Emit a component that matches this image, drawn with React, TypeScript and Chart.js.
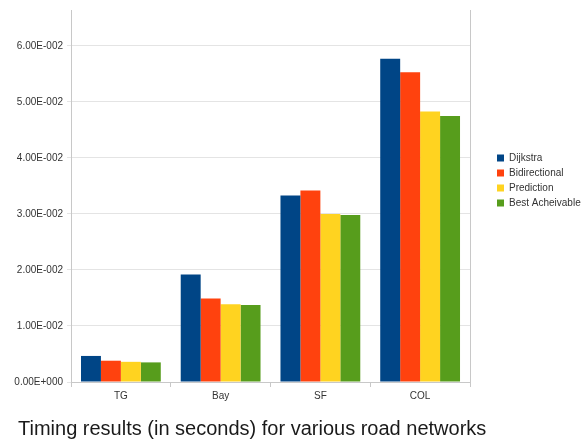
import React, { useEffect, useRef } from 'react';
import { Chart, registerables } from 'chart.js';

Chart.register(...registerables);

const categories = ['TG', 'Bay', 'SF', 'COL'];
const seriesNames = ['Dijkstra', 'Bidirectional', 'Prediction', 'Best Acheivable'];
const dijkstra = [0.00465, 0.0192, 0.0333, 0.0577];
const bidirectional = [0.0038, 0.0149, 0.0342, 0.0553];
const prediction = [0.0036, 0.0139, 0.0300, 0.0483];
const bestAcheivable = [0.0035, 0.01375, 0.0298, 0.0475];
const seriesColors = ['#004586', '#ff420e', '#ffd320', '#579d1c'];
const yTicks = [0, 0.01, 0.02, 0.03, 0.04, 0.05, 0.06];
const chartTitle = 'Timing results (in seconds) for various road networks';

const FONT = "'Liberation Sans', Arial, sans-serif";

function fmtSci(v: number): string {
  if (v === 0) return '0.00E+000';
  const e = Math.floor(Math.log10(Math.abs(v)) + 1e-9);
  const m = v / Math.pow(10, e);
  return m.toFixed(2) + 'E' + (e < 0 ? '-' : '+') + String(Math.abs(e)).padStart(3, '0');
}

const boxPlacement = {
  id: 'boxPlacement',
  afterInit(chart: any) {
    const legend = chart.legend;
    if (!legend) return;
    const orig = legend.fit.bind(legend);
    legend.fit = function () {
      orig();
      this.width = 96;
    };
  },
  afterLayout(chart: any) {
    const legend = chart.legend;
    if (legend) {
      const h = legend.bottom - legend.top;
      legend.top = 148;
      legend.bottom = 148 + h;
    }
    const tb = chart.titleBlock;
    if (tb) {
      tb.left = 18;
    }
  },
};

export default function App() {
  const ref = useRef<HTMLCanvasElement | null>(null);

  useEffect(() => {
    if (!ref.current) return;
    const seriesValues = [dijkstra, bidirectional, prediction, bestAcheivable];
    const chart = new Chart(ref.current, {
      type: 'bar',
      data: {
        labels: categories,
        datasets: seriesNames.map((name, i) => ({
          label: name,
          data: seriesValues[i],
          backgroundColor: seriesColors[i],
          borderWidth: 0,
          categoryPercentage: 0.8,
          barPercentage: 1.0,
        })),
      },
      options: {
        responsive: false,
        animation: false,
        layout: { padding: { left: 0, top: 10, right: 0, bottom: 0 } },
        font: { family: FONT },
        plugins: {
          legend: {
            display: true,
            position: 'right',
            align: 'start',
            labels: {
              boxWidth: 7,
              boxHeight: 7,
              padding: 5,
              color: '#333333',
              font: { size: 10, family: FONT },
            },
          },
          title: {
            display: true,
            text: chartTitle,
            position: 'bottom',
            align: 'start',
            color: '#1a1a1a',
            padding: 0,
            font: { size: 20, family: FONT, weight: 'normal', lineHeight: 1 },
          },
          tooltip: { enabled: false },
        },
        scales: {
          x: {
            offset: true,
            grid: {
              display: true,
              drawOnChartArea: false,
              offset: true,
              tickLength: 5,
              color: '#c8c8c8',
            },
            border: { display: true, color: '#c8c8c8' },
            ticks: {
              color: '#333333',
              padding: 3,
              font: { size: 10, family: FONT },
            },
            afterFit(scale: any) {
              scale.height = 37;
            },
          },
          y: {
            min: 0,
            max: 0.0664,
            afterBuildTicks(scale: any) {
              scale.ticks = yTicks.map((v) => ({ value: v }));
            },
            grid: {
              color: '#e4e4e4',
              tickLength: 4,
            },
            border: { display: true, color: '#c8c8c8' },
            ticks: {
              color: '#333333',
              padding: 4,
              font: { size: 10, family: FONT },
              callback: (v: any) => fmtSci(Number(v)),
            },
            afterFit(scale: any) {
              scale.width = 71;
            },
          },
          y2: {
            position: 'right',
            display: true,
            grid: { display: false },
            ticks: { display: false },
            border: { display: true, color: '#c8c8c8' },
            afterFit(scale: any) {
              scale.width = 22;
            },
          },
        },
      },
      plugins: [boxPlacement],
    } as any);
    return () => chart.destroy();
  }, []);

  return (
    <div style={{ position: 'absolute', left: 0, top: 0, width: 588, height: 439, overflow: 'hidden', background: '#ffffff' }}>
      <canvas ref={ref} width={588} height={439} style={{ display: 'block' }} />
    </div>
  );
}
